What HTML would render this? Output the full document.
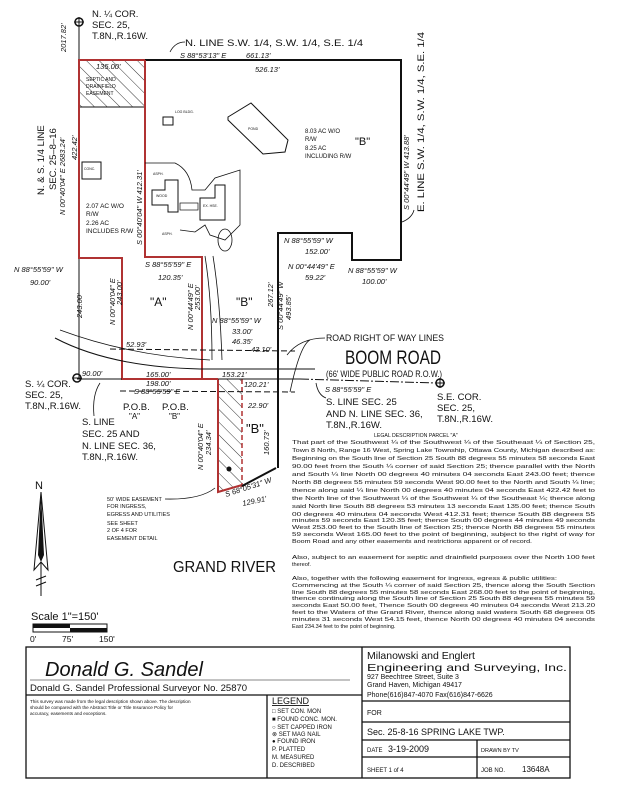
<!DOCTYPE html>
<html><head><meta charset="utf-8"><style>
html,body{margin:0;padding:0;background:#fff;}
svg{display:block;}
text{font-family:"Liberation Sans",sans-serif;fill:#111;}
.i{font-style:italic;font-size:7.5px;}
.s{font-size:9.5px;}
.l{font-size:6.2px;}
</style></head><body>
<svg width="632" height="793" viewBox="0 0 632 793" xmlns="http://www.w3.org/2000/svg">
<defs>
<pattern id="h" patternUnits="userSpaceOnUse" width="9" height="9" patternTransform="rotate(-45)">
<line x1="0" y1="0" x2="0" y2="9" stroke="#222" stroke-width="0.9"/></pattern>
</defs>
<rect width="632" height="793" fill="#fff"/>

<!-- N 1/4 corner -->
<line x1="79" y1="18" x2="79" y2="60" stroke="#111" stroke-width="1"/>
<circle cx="79" cy="22" r="4" fill="none" stroke="#111" stroke-width="1.5"/>
<line x1="74" y1="22" x2="84" y2="22" stroke="#111"/><line x1="79" y1="17" x2="79" y2="27" stroke="#111"/>
<text x="92" y="17" class="s">N. ¼ COR.</text>
<text x="92" y="28" class="s">SEC. 25,</text>
<text x="92" y="39" class="s">T.8N.,R.16W.</text>
<text class="i" transform="translate(66,52) rotate(-90)">2017.82'</text>

<!-- parcel B boundary -->
<polyline points="145,60 401,60 401,260 352,260 352,233 278,233 278,468" fill="none" stroke="#111" stroke-width="2"/>
<line x1="79" y1="258" x2="79" y2="379" stroke="#111" stroke-width="1"/>
<line x1="79" y1="258" x2="122" y2="258" stroke="#111" stroke-width="1"/>

<!-- septic easement -->
<rect x="79" y="60" width="66" height="47" fill="url(#h)"/>
<line x1="79" y1="107" x2="145" y2="107" stroke="#111" stroke-width="1"/>

<!-- parcel A red -->
<polyline points="145,60 79,60 79,258 122,258 122,379 202,379 202,257 145,257 145,60" fill="none" stroke="#b03232" stroke-width="2"/>
<line x1="202" y1="379" x2="218" y2="379" stroke="#b03232" stroke-width="2"/>

<!-- easement south -->
<polygon points="218,379 242,379 242,487 218,492" fill="url(#h)"/>
<polyline points="218,379 218,492 242,485" fill="none" stroke="#b03232" stroke-width="2"/>
<line x1="242" y1="379" x2="242" y2="487" stroke="#b03232" stroke-width="1.5" stroke-dasharray="5,3"/>
<line x1="242" y1="486" x2="276" y2="468" stroke="#111" stroke-width="2"/>
<line x1="278" y1="379" x2="278" y2="468" stroke="#111" stroke-width="2"/>
<circle cx="229" cy="469" r="2.5" fill="#111"/>

<!-- road -->
<path d="M55,338 Q110,367 200,369 L315,369" fill="none" stroke="#111" stroke-width="1"/>
<path d="M60,330 Q130,356 210,360" fill="none" stroke="#111" stroke-width="0.8"/>
<line x1="110" y1="349" x2="295" y2="351" stroke="#111" stroke-width="1" stroke-dasharray="6,3"/>
<line x1="120" y1="391" x2="295" y2="392" stroke="#111" stroke-width="1" stroke-dasharray="6,3"/>
<line x1="77" y1="379" x2="122" y2="379" stroke="#111" stroke-width="1"/>
<line x1="218" y1="379" x2="300" y2="379" stroke="#111" stroke-width="1"/>
<line x1="300" y1="379" x2="436" y2="383" stroke="#111" stroke-width="1" stroke-dasharray="9,2,2,2"/>
<circle cx="77" cy="378" r="4" fill="none" stroke="#111" stroke-width="1.5"/>
<line x1="72" y1="378" x2="82" y2="378" stroke="#111"/>
<circle cx="440" cy="383" r="4" fill="none" stroke="#111" stroke-width="1.5"/>
<line x1="435" y1="383" x2="445" y2="383" stroke="#111"/><line x1="440" y1="378" x2="440" y2="388" stroke="#111"/>

<!-- driveway -->
<path d="M205,256 Q212,300 212,360" fill="none" stroke="#111" stroke-width="0.8"/>
<path d="M213,256 Q220,300 222,360" fill="none" stroke="#111" stroke-width="0.8"/>

<!-- buildings -->
<rect x="163" y="117" width="10" height="8" fill="none" stroke="#111" stroke-width="1"/>
<text x="175" y="113" font-size="3.5">LOG BLDG.</text>
<polygon points="228,117 251,103 288,140 285,152 263,154 228,120" fill="none" stroke="#111" stroke-width="1"/>
<text x="248" y="130" font-size="3.5">POND</text>
<rect x="82" y="162" width="19" height="17" fill="none" stroke="#111" stroke-width="1"/>
<text x="84" y="170" font-size="3.5">CONC.</text>
<path d="M145,163 L175,163 Q190,170 192,190 L205,190 L215,178 L240,170 L240,225 L225,240 L210,235 L205,225 L195,232 L180,230" fill="none" stroke="#111" stroke-width="0.8"/>
<polygon points="152,190 165,190 165,180 178,180 178,212 168,212 168,205 152,205" fill="none" stroke="#111" stroke-width="1"/>
<text x="156" y="197" font-size="3.5">WOOD</text>
<polygon points="200,198 215,198 215,185 225,185 225,220 200,220" fill="none" stroke="#111" stroke-width="1"/>
<text x="203" y="207" font-size="3.5">EX. HSE.</text>
<rect x="180" y="203" width="18" height="7" fill="none" stroke="#111" stroke-width="0.7"/>
<ellipse cx="225" cy="240" rx="7" ry="11" fill="none" stroke="#111" stroke-width="0.8"/>
<text x="153" y="175" font-size="3.5">ASPH.</text>
<text x="162" y="235" font-size="3.5">ASPH.</text>

<!-- top labels -->
<path d="M170,52 Q175,42 185,42" fill="none" stroke="#111" stroke-width="0.8"/>
<text x="185" y="46" class="s" textLength="178" lengthAdjust="spacingAndGlyphs">N. LINE S.W. 1/4, S.W. 1/4, S.E. 1/4</text>
<text x="180" y="58" class="i">S 88°53'13" E</text>
<text x="246" y="58" class="i">661.13'</text>
<text x="255" y="72" class="i">526.13'</text>
<text x="96" y="69" class="i">135.00'</text>
<text x="86" y="81" font-size="5">SEPTIC AND</text>
<text x="86" y="88" font-size="5">DRAINFIELD</text>
<text x="86" y="95" font-size="5">EASEMENT</text>

<text class="s" transform="translate(44,195) rotate(-90)">N. &amp; S. 1/4 LINE</text>
<text class="s" transform="translate(56,190) rotate(-90)">SEC. 25–8–16</text>
<text class="i" transform="translate(65,215) rotate(-90)">N 00°40'04" E  2683.24'</text>
<text class="i" transform="translate(77,160) rotate(-90)">422.42'</text>
<text class="i" transform="translate(142,245) rotate(-90)">S 00°40'04" W  412.31'</text>

<text x="305" y="133" font-size="6">8.03 AC W/O</text>
<text x="305" y="141" font-size="6">R/W</text>
<text x="305" y="150" font-size="6">8.25 AC</text>
<text x="305" y="158" font-size="6">INCLUDING R/W</text>
<text x="355" y="145" font-size="11">"B"</text>
<text class="i" transform="translate(409,210) rotate(-90)">S 00°44'49" W  413.88'</text>
<text class="s" transform="translate(424,212) rotate(-90)" textLength="180" lengthAdjust="spacingAndGlyphs">E. LINE S.W. 1/4, S.W. 1/4, S.E. 1/4</text>
<path d="M402,222 Q412,218 414,210" fill="none" stroke="#111" stroke-width="0.8"/>

<text x="86" y="208" font-size="6.5">2.07 AC W/O</text>
<text x="86" y="216" font-size="6.5">R/W</text>
<text x="86" y="225" font-size="6.5">2.26 AC</text>
<text x="86" y="233" font-size="6.5">INCLUDES R/W</text>

<text x="284" y="243" class="i">N 88°55'59" W</text>
<text x="305" y="254" class="i">152.00'</text>
<text x="288" y="269" class="i">N 00°44'49" E</text>
<text x="305" y="280" class="i">59.22'</text>
<text x="348" y="273" class="i">N 88°55'59" W</text>
<text x="362" y="284" class="i">100.00'</text>
<text x="14" y="272" class="i">N 88°55'59" W</text>
<text x="30" y="285" class="i">90.00'</text>
<text x="145" y="267" class="i">S 88°55'59" E</text>
<text x="158" y="280" class="i">120.35'</text>

<text x="150" y="306" font-size="12">"A"</text>
<text x="236" y="306" font-size="12">"B"</text>
<text class="i" transform="translate(82,318) rotate(-90)">243.00'</text>
<text class="i" transform="translate(115,325) rotate(-90)">N 00°40'04" E</text>
<text class="i" transform="translate(122,305) rotate(-90)">243.00'</text>
<text class="i" transform="translate(193,330) rotate(-90)">N 00°44'49" E</text>
<text class="i" transform="translate(200,310) rotate(-90)">253.00'</text>
<text class="i" transform="translate(273,307) rotate(-90)">267.12'</text>
<text class="i" transform="translate(283,330) rotate(-90)">S 00°44'49" W</text>
<text class="i" transform="translate(291,320) rotate(-90)">493.85'</text>
<text x="212" y="323" class="i">N 88°55'59" W</text>
<text x="232" y="334" class="i">33.00'</text>
<text x="232" y="344" class="i">46.35'</text>
<text x="251" y="352" class="i">43.10'</text>
<text x="126" y="347" class="i">52.93'</text>
<text x="82" y="376" class="i">90.00'</text>
<text x="146" y="377" class="i">165.00'</text>
<text x="146" y="386" class="i">198.00'</text>
<text x="134" y="394" class="i">S 88°55'59" E</text>
<text x="222" y="377" class="i">153.21'</text>
<text x="244" y="387" class="i">120.21'</text>
<text x="248" y="408" class="i">22.90'</text>

<path d="M287,355 Q300,338 325,338" fill="none" stroke="#111" stroke-width="0.8"/>
<path d="M290,392 Q300,345 310,340" fill="none" stroke="#111" stroke-width="0.8"/>
<text x="326" y="341" font-size="9" textLength="118" lengthAdjust="spacingAndGlyphs">ROAD RIGHT OF WAY LINES</text>
<text x="345" y="364" font-size="19" textLength="96" lengthAdjust="spacingAndGlyphs">BOOM ROAD</text>
<text x="326" y="377" font-size="9" textLength="116" lengthAdjust="spacingAndGlyphs">(66' WIDE PUBLIC ROAD R.O.W.)</text>
<text x="325" y="392" class="i">S 88°55'59" E</text>
<path d="M316,383 Q318,395 326,398" fill="none" stroke="#111" stroke-width="0.8"/>
<text x="326" y="405" class="s">S. LINE SEC. 25</text>
<text x="326" y="417" class="s">AND N. LINE SEC. 36,</text>
<text x="326" y="428" class="s">T.8N.,R.16W.</text>
<text x="437" y="400" class="s">S.E. COR.</text>
<text x="437" y="411" class="s">SEC. 25,</text>
<text x="437" y="422" class="s">T.8N.,R.16W.</text>

<text x="25" y="387" class="s">S. ¼ COR.</text>
<text x="25" y="398" class="s">SEC. 25,</text>
<text x="25" y="409" class="s">T.8N.,R.16W.</text>
<text x="123" y="410" class="s">P.O.B.</text>
<text x="129" y="419" font-size="8">"A"</text>
<text x="162" y="410" class="s">P.O.B.</text>
<text x="169" y="419" font-size="8">"B"</text>
<path d="M100,383 Q92,395 94,416" fill="none" stroke="#111" stroke-width="0.8"/>
<text x="82" y="425" class="s">S. LINE</text>
<text x="82" y="437" class="s">SEC. 25 AND</text>
<text x="82" y="449" class="s">N. LINE SEC. 36,</text>
<text x="82" y="460" class="s">T.8N.,R.16W.</text>

<text x="246" y="433" font-size="13">"B"</text>
<text class="i" transform="translate(203,470) rotate(-90)">N 00°40'04" E</text>
<text class="i" transform="translate(211,455) rotate(-90)">234.34'</text>
<text class="i" transform="translate(269,455) rotate(-90)">160.73'</text>
<text class="i" transform="translate(226,497) rotate(-18)">S 68°05'31" W</text>
<text class="i" transform="translate(243,506) rotate(-12)">129.91'</text>

<path d="M165,499 Q200,500 215,488" fill="none" stroke="#111" stroke-width="0.8"/>
<text x="107" y="501" font-size="5.5">50' WIDE EASEMENT</text>
<text x="107" y="508" font-size="5.5">FOR INGRESS,</text>
<text x="107" y="516" font-size="5.5">EGRESS AND UTILITIES</text>
<text x="107" y="525" font-size="5.5">SEE SHEET</text>
<text x="107" y="532" font-size="5.5">2 OF 4 FOR</text>
<text x="107" y="540" font-size="5.5">EASEMENT DETAIL</text>

<!-- north arrow -->
<text x="35" y="489" font-size="11">N</text>
<polygon points="41,492 48,570 41,562 34,570" fill="none" stroke="#111" stroke-width="1"/>
<polygon points="41,492 44,555 41,562 38,555" fill="#111"/>
<line x1="41" y1="562" x2="41" y2="596" stroke="#111"/>
<line x1="36" y1="580" x2="46" y2="576" stroke="#111"/><line x1="36" y1="586" x2="46" y2="582" stroke="#111"/>

<text x="173" y="572" font-size="15.5" textLength="103" lengthAdjust="spacingAndGlyphs">GRAND RIVER</text>

<text x="31" y="620" font-size="11">Scale  1"=150'</text>
<rect x="33" y="624" width="74" height="8" fill="#fff" stroke="#111"/>
<rect x="33" y="624" width="37" height="4" fill="#111"/>
<rect x="70" y="628" width="37" height="4" fill="#111"/>
<text x="30" y="642" font-size="8.5">0'</text>
<text x="62" y="642" font-size="8.5">75'</text>
<text x="99" y="642" font-size="8.5">150'</text>

<!-- legal description -->
<g font-size="5.6">
<text x="374" y="437" font-size="5.2">LEGAL DESCRIPTION PARCEL "A"</text>
<text x="292" y="444" textLength="303" lengthAdjust="spacingAndGlyphs">That part of the Southwest ¼ of the Southwest ¼ of the Southeast ¼ of Section 25,</text>
<text x="292" y="452" textLength="303" lengthAdjust="spacingAndGlyphs">Town 8 North, Range 16 West, Spring Lake Township, Ottawa County, Michigan described as:</text>
<text x="292" y="460" textLength="303" lengthAdjust="spacingAndGlyphs">Beginning on the South line of Section 25 South 88 degrees 55 minutes 58 seconds East</text>
<text x="292" y="468" textLength="303" lengthAdjust="spacingAndGlyphs">90.00 feet from the South ¼ corner of said Section 25; thence parallel with the North</text>
<text x="292" y="476" textLength="303" lengthAdjust="spacingAndGlyphs">and South ¼ line North 00 degrees 40 minutes 04 seconds East 243.00 feet; thence</text>
<text x="292" y="484" textLength="303" lengthAdjust="spacingAndGlyphs">North 88 degrees 55 minutes 59 seconds West 90.00 feet to the North and South ¼ line;</text>
<text x="292" y="492" textLength="303" lengthAdjust="spacingAndGlyphs">thence along said ¼ line North 00 degrees 40 minutes 04 seconds East 422.42 feet to</text>
<text x="292" y="500" textLength="303" lengthAdjust="spacingAndGlyphs">the North line of the Southwest ¼ of the Southwest ¼ of the Southeast ¼; thence along</text>
<text x="292" y="508" textLength="303" lengthAdjust="spacingAndGlyphs">said North line South 88 degrees 53 minutes 13 seconds East 135.00 feet; thence South</text>
<text x="292" y="516" textLength="303" lengthAdjust="spacingAndGlyphs">00 degrees 40 minutes 04 seconds West 412.31 feet; thence South 88 degrees 55</text>
<text x="292" y="522" textLength="303" lengthAdjust="spacingAndGlyphs">minutes 59 seconds East 120.35 feet; thence South 00 degrees 44 minutes 49 seconds</text>
<text x="292" y="529" textLength="303" lengthAdjust="spacingAndGlyphs">West 253.00 feet to the South line of Section 25; thence North 88 degrees 55 minutes</text>
<text x="292" y="536" textLength="303" lengthAdjust="spacingAndGlyphs">59 seconds West 165.00 feet to the point of beginning, subject to the right of way for</text>
<text x="292" y="543" textLength="240" lengthAdjust="spacingAndGlyphs">Boom Road and any other easements and restrictions apparent or of record.</text>
<text x="292" y="559" textLength="303" lengthAdjust="spacingAndGlyphs">Also, subject to an easement for septic and drainfield purposes over the North 100 feet</text>
<text x="292" y="566">thereof.</text>
<text x="292" y="580" textLength="265" lengthAdjust="spacingAndGlyphs">Also, together with the following easement for ingress, egress &amp; public utilities:</text>
<text x="292" y="587" textLength="303" lengthAdjust="spacingAndGlyphs">Commencing at the South ¼ corner of said Section 25, thence along the South Section</text>
<text x="292" y="594" textLength="303" lengthAdjust="spacingAndGlyphs">line South 88 degrees 55 minutes 58 seconds East 268.00 feet to the point of beginning,</text>
<text x="292" y="600" textLength="303" lengthAdjust="spacingAndGlyphs">thence continuing along the South line of Section 25 South 88 degrees 55 minutes 59</text>
<text x="292" y="607" textLength="303" lengthAdjust="spacingAndGlyphs">seconds East 50.00 feet, Thence South 00 degrees 40 minutes 04 seconds West 213.20</text>
<text x="292" y="614" textLength="303" lengthAdjust="spacingAndGlyphs">feet to the Waters of the Grand River, thence along said waters South 68 degrees 05</text>
<text x="292" y="621" textLength="303" lengthAdjust="spacingAndGlyphs">minutes 31 seconds West 54.15 feet, thence North 00 degrees 40 minutes 04 seconds</text>
<text x="292" y="628">East 234.34 feet to the point of beginning.</text>
</g>

<!-- title block -->
<g fill="none" stroke="#111" stroke-width="1.3">
<rect x="26" y="647" width="544" height="131"/>
<line x1="362" y1="647" x2="362" y2="778"/>
<line x1="26" y1="695" x2="362" y2="695"/>
<line x1="267" y1="695" x2="267" y2="778"/>
<line x1="362" y1="701" x2="570" y2="701"/>
<line x1="362" y1="722" x2="570" y2="722"/>
<line x1="362" y1="740" x2="570" y2="740"/>
<line x1="362" y1="757" x2="570" y2="757"/>
<line x1="477" y1="740" x2="477" y2="778"/>
<line x1="30" y1="680" x2="350" y2="680" stroke-width="0.6"/>
</g>
<text x="45" y="676" font-family="Liberation Serif" font-style="italic" font-size="20" fill="#333">Donald G. Sandel</text>
<text x="30" y="691" font-size="9.5">Donald G. Sandel Professional Surveyor No. 25870</text>
<text x="30" y="703" font-size="4.6">This survey was made from the legal description shown above. The description</text>
<text x="30" y="709" font-size="4.6">should be compared with the Abstract Title or Title Insurance Policy for</text>
<text x="30" y="715" font-size="4.6">accuracy, easements and exceptions.</text>
<text x="272" y="704" font-size="9" text-decoration="underline">LEGEND</text>
<g font-size="6">
<text x="272" y="713">□ SET CON. MON</text>
<text x="272" y="721">■ FOUND CONC. MON.</text>
<text x="272" y="729">○ SET CAPPED IRON</text>
<text x="272" y="736">⊗ SET MAG NAIL</text>
<text x="272" y="743">● FOUND IRON</text>
<text x="272" y="751">P. PLATTED</text>
<text x="272" y="759">M. MEASURED</text>
<text x="272" y="767">D. DESCRIBED</text>
</g>
<text x="367" y="659" font-size="10.5">Milanowski and Englert</text>
<text x="367" y="671" font-size="10.5" textLength="200" lengthAdjust="spacingAndGlyphs">Engineering and Surveying, Inc.</text>
<text x="367" y="679" font-size="7">927 Beechtree Street, Suite 3</text>
<text x="367" y="687" font-size="7">Grand Haven, Michigan   49417</text>
<text x="367" y="697" font-size="7">Phone(616)847-4070  Fax(616)847-6626</text>
<text x="367" y="715" font-size="7">FOR</text>
<text x="367" y="735" font-size="9">Sec. 25-8-16 SPRING LAKE TWP.</text>
<text x="367" y="752" font-size="6">DATE</text>
<text x="388" y="752" font-size="9">3-19-2009</text>
<text x="481" y="752" font-size="5.5">DRAWN BY  TV</text>
<text x="367" y="772" font-size="6">SHEET   1    of    4</text>
<text x="481" y="772" font-size="6">JOB NO.</text>
<text x="522" y="772" font-size="8">13648A</text>
</svg>
</body></html>
